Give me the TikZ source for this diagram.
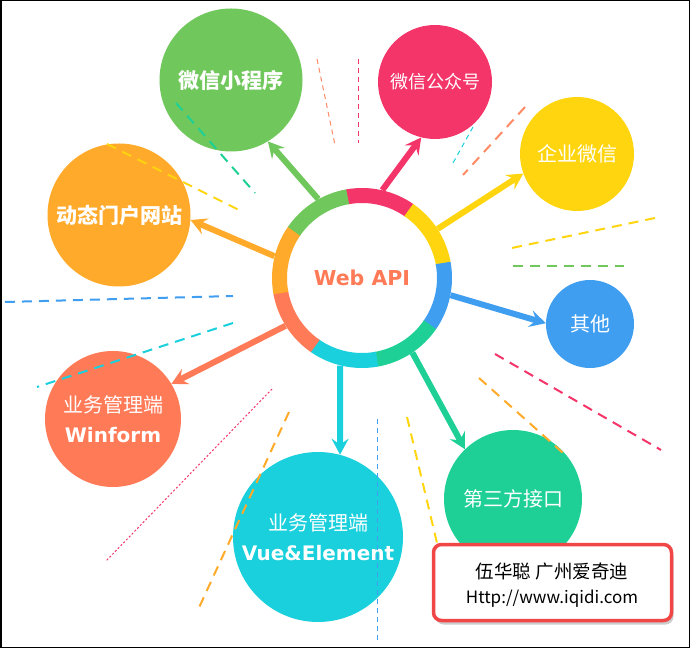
\documentclass[tikz,border=0pt]{standalone}
\usepackage{fontspec}
\usepackage{xcolor}
\usepackage{tikz}
\usetikzlibrary{arrows.meta,shadows}

\newfontfamily\cjk{Noto Sans CJK SC}
\newfontfamily\dejavu{DejaVu Sans}

\definecolor{cgreen}{HTML}{70C85C}
\definecolor{corange}{HTML}{FFAA2A}
\definecolor{cpink}{HTML}{F3356A}
\definecolor{cyellow}{HTML}{FFD50F}
\definecolor{cblue}{HTML}{409EF0}
\definecolor{cteal}{HTML}{1ED095}
\definecolor{ccyan}{HTML}{19D0DC}
\definecolor{ccoral}{HTML}{FF7A57}
\definecolor{csalmon}{HTML}{FF8A66}
\definecolor{cred}{HTML}{F04646}

\tikzset{
  ball/.style={circle, inner sep=0pt, text=white, align=center, font=\cjk\fontsize{20}{26}\selectfont},
  spoke/.style={line width=6pt, -{Stealth[length=16pt, width=17pt, inset=6pt]}},
  seg/.style={line width=15pt},
  thickdash/.style={line width=2pt, dash pattern=on 10pt off 7pt},
  thindash/.style={line width=1pt, dash pattern=on 5pt off 4pt},
  dotdash/.style={line width=1pt, dash pattern=on 2pt off 2pt},
  signbox/.style={rectangle, rounded corners=8pt, draw=cred, line width=3.5pt, fill=white,
    minimum width=238pt, minimum height=76pt,
    drop shadow={shadow xshift=2pt, shadow yshift=-4pt, opacity=.4}},
}

\begin{document}
\begin{tikzpicture}[x=1pt, y=1pt]
 \useasboundingbox (0, 0) rectangle (690, 648);
 \fill [white] (0, 0) rectangle (690, 648);

 \node [ball, fill=cgreen, minimum size=143pt, font=\cjk\bfseries\fontsize{21}{26}\selectfont] (wxapp) at (231, 568) {微信小程序};
 \node [ball, fill=corange, minimum size=143pt, font=\cjk\bfseries\fontsize{21}{26}\selectfont] (portal) at (119, 433) {动态门户网站};
 \node [ball, fill=cpink, minimum size=114pt, font=\cjk\fontsize{18}{24}\selectfont] (wxmp) at (435, 566) {微信公众号};
 \node [ball, fill=cyellow, minimum size=114pt] (wxwork) at (577, 494) {企业微信};
 \node [ball, fill=cblue, minimum size=88pt] (other) at (590, 324) {其他};
 \node [ball, fill=cteal, minimum size=138pt] (third) at (513, 149) {第三方接口};
 \node [ball, fill=ccyan, minimum size=170pt] (vue) at (318, 111) {业务管理端\\[4pt]{\dejavu\bfseries Vue\&Element}};
 \node [ball, fill=ccoral, minimum size=136pt] (winform) at (113, 229) {业务管理端\\[4pt]{\dejavu\bfseries Winform}};

 \draw [thindash, csalmon] (317, 589) -- (335, 503);
 \draw [thickdash, cteal] (176, 545) -- (255, 455);
 \draw [thickdash, cyellow] (107, 504) -- (243, 436);
 \draw [thickdash, cblue] (5, 346) -- (233, 352);
 \draw [thindash, cpink] (358, 589) -- (358, 505);
 \draw [thindash, ccyan] (473, 521) -- (453, 485);
 \draw [thickdash, csalmon] (525, 541) -- (463, 473);
 \draw [thickdash, cyellow] (655, 430) -- (507, 399);
 \draw [thickdash, cgreen] (513, 382) -- (624, 382);
 \draw [thickdash, ccyan] (233, 325) -- (37, 261);
 \draw [dotdash, cpink] (272, 259) -- (106, 87);
 \draw [thickdash, corange] (289, 236) -- (197, 36);
 \draw [thindash, cblue] (377, 229) -- (377, 5);
 \draw [thickdash, cyellow] (407, 231) -- (437, 105);
 \draw [thickdash, corange] (479, 270) -- (563, 195);
 \draw [thickdash, cpink] (495, 294) -- (661, 198);

 \node [circle, inner sep=0pt, minimum size=180pt, text=ccoral, font=\dejavu\bfseries\fontsize{20.5}{24}\selectfont] (api) at (362, 370) {Web API};

 \draw [spoke, cgreen] (api.119) -- (wxapp.-59);
 \draw [spoke, corange] (api.166) -- (portal.-4);
 \draw [spoke, cpink] (api.77) -- (wxmp.-104);
 \draw [spoke, cyellow] (api.33) -- (wxwork.200);
 \draw [spoke, cblue] (api.-11) -- (other.179);
 \draw [spoke, cteal] (api.-56) -- (third.134);
 \draw [spoke, ccyan] (api.-104) -- (vue.75);
 \draw [spoke, ccoral] (api.-148) -- (winform.31);

 \foreach \a/\c in {100/cpink, 55/cyellow, 10/cblue, -35/cteal, -80/ccyan, -125/ccoral, -170/corange, -215/cgreen}
  \draw [seg, \c] (api.center) ++(\a+0.5:82.5) arc [start angle=\a+0.5, end angle=\a-45, radius=82.5];

 \node [signbox] (sign) at (552.5, 65.5) {};
 \node [font=\cjk\fontsize{18.5}{22}\selectfont] (author) at (552, 76) {伍华聪 广州爱奇迪};
 \node [font=\cjk\fontsize{17}{22}\selectfont] (site) at (552, 49) {Http://www.iqidi.com};

 \draw [line width=1.5pt] (0.75, 0.75) rectangle (689.25, 647.25);
\end{tikzpicture}
\end{document}
